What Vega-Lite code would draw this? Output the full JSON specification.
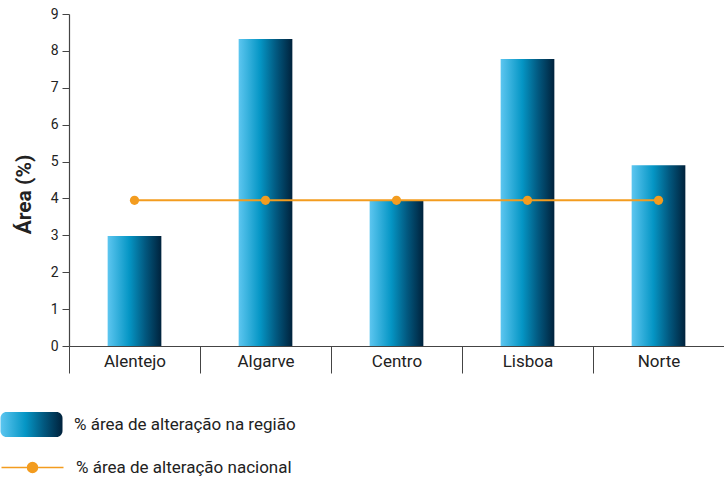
{
  "$schema": "https://vega.github.io/schema/vega-lite/v6.json",
  "autosize": "none",
  "padding": {"left": 69, "top": 14, "right": 0, "bottom": 132},
  "width": 655,
  "height": 332,
  "background": "white",
  "config": {
    "font": "Roboto",
    "view": {"stroke": null},
    "axis": {"domainColor": "#444", "tickColor": "#444", "labelColor": "#222", "titleColor": "#222", "grid": false, "labelFont": "Roboto", "titleFont": "Roboto"},
    "legend": {"labelFont": "Roboto"}
  },
  "data": {
    "values": [
      {"regiao": "Alentejo", "area": 2.98, "nacional": 3.95, "serieBarra": "% área de alteração na região", "serieLinha": "% área de alteração nacional"},
      {"regiao": "Algarve", "area": 8.32, "nacional": 3.95, "serieBarra": "% área de alteração na região", "serieLinha": "% área de alteração nacional"},
      {"regiao": "Centro", "area": 3.93, "nacional": 3.95, "serieBarra": "% área de alteração na região", "serieLinha": "% área de alteração nacional"},
      {"regiao": "Lisboa", "area": 7.78, "nacional": 3.95, "serieBarra": "% área de alteração na região", "serieLinha": "% área de alteração nacional"},
      {"regiao": "Norte", "area": 4.9, "nacional": 3.95, "serieBarra": "% área de alteração na região", "serieLinha": "% área de alteração nacional"}
    ]
  },
  "encoding": {
    "x": {
      "field": "regiao", "type": "nominal", "sort": null,
      "scale": {"paddingInner": 0, "paddingOuter": 0},
      "axis": {"title": null, "labelAngle": 0, "tickBand": "extent", "tickSize": 27, "labelPadding": -20, "labelFontSize": 17, "domainWidth": 1.2, "tickWidth": 1}
    }
  },
  "layer": [
    {
      "mark": {
        "type": "bar",
        "width": {"band": 0.41},
        "fill": {
          "gradient": "linear", "x1": 0, "y1": 0, "x2": 1, "y2": 0,
          "stops": [
            {"offset": 0, "color": "#5dc6f0"},
            {"offset": 0.4, "color": "#0596c5"},
            {"offset": 0.7, "color": "#02587f"},
            {"offset": 1, "color": "#00223c"}
          ]
        }
      },
      "encoding": {
        "y": {
          "field": "area", "type": "quantitative",
          "scale": {"domain": [0, 9], "nice": false},
          "axis": {"title": "Área (%)", "values": [0,1,2,3,4,5,6,7,8,9], "tickSize": 7, "labelPadding": 4, "labelFontSize": 14, "titleFontSize": 21, "titleFontWeight": "bold", "titlePadding": 16, "titleY": 180, "domainWidth": 1.2}
        },
        "opacity": {
          "field": "serieBarra", "type": "nominal",
          "scale": {"range": [1]},
          "legend": {
            "title": null,
            "orient": "none",
            "legendX": -50,
            "legendY": 398,
            "direction": "vertical",
            "symbolSize": 625,
            "labelOffset": 30,
            "labelFontSize": 17,
            "labelLimit": 0,
            "labelColor": "#222",
            "symbolStrokeWidth": 0,
            "symbolType": "M-2,-1H2A0.48,0.48 0 0 1 2.48,-0.52V0.52A0.48,0.48 0 0 1 2,1H-2A0.48,0.48 0 0 1 -2.48,0.52V-0.52A0.48,0.48 0 0 1 -2,-1Z"
          }
        }
      }
    },
    {
      "mark": {"type": "line", "strokeWidth": 2, "point": {"filled": true, "size": 85, "opacity": 1}},
      "encoding": {
        "y": {
          "field": "nacional", "type": "quantitative",
          "axis": {"title": "Área (%)", "values": [0,1,2,3,4,5,6,7,8,9], "tickSize": 7, "labelPadding": 4, "labelFontSize": 14, "titleFontSize": 21, "titleFontWeight": "bold", "titlePadding": 16, "titleY": 180, "domainWidth": 1.2}
        },
        "color": {
          "field": "serieLinha", "type": "nominal",
          "scale": {"range": ["#f39c1f"]},
          "legend": {
            "title": null,
            "orient": "none",
            "legendX": -50,
            "legendY": 440,
            "direction": "vertical",
            "symbolSize": 625,
            "labelOffset": 30,
            "labelFontSize": 17,
            "labelLimit": 0,
            "labelColor": "#222",
            "symbolStrokeWidth": 1.5,
            "symbolFillColor": "#f39200",
            "symbolType": "M-2.48,0H2.48M0.4,0A0.4,0.4 0 1 1 -0.4,0A0.4,0.4 0 1 1 0.4,0Z"
          }
        }
      }
    }
  ]
}
